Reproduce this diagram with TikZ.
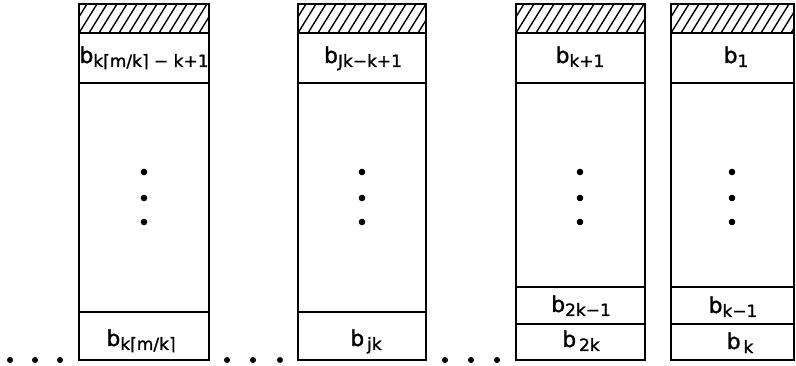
\documentclass[tikz,border=0pt]{standalone}
\usepackage{fontspec}
\setmainfont{DejaVu Sans}[FakeBold=1.2]
\newcommand\blbl[1]{{\fontsize{22}{22}\selectfont b}\raisebox{-4pt}{\fontsize{17}{17}\selectfont #1}}
\tikzset{
  cell/.style={line width=2.2pt},
  hatchline/.style={line width=1.4pt},
  lab/.style={anchor=base, inner sep=0pt},
  vdot/.style={fill=black},
}
\newcommand\hatchcol[2]{% x0, x1
  \begin{scope}
    \clip (#1,4) rectangle (#2,33);
    \foreach \i in {-30,-20,...,140} {
      \draw[hatchline] ({#1+\i},33) -- ({#1+\i+18},4);
    }
  \end{scope}
}
\begin{document}
\begin{tikzpicture}[x=1pt,y=-1pt]
\useasboundingbox (0,0) rectangle (796,366);
% column 1
\hatchcol{79}{209}
\draw[cell] (79,4) rectangle (209,360);
\draw[cell] (79,33) -- (209,33);
\draw[cell] (79,83) -- (209,83);
\draw[cell] (79,312) -- (209,312);
% column 2
\hatchcol{298}{426}
\draw[cell] (298,4) rectangle (426,360);
\draw[cell] (298,33) -- (426,33);
\draw[cell] (298,83) -- (426,83);
\draw[cell] (298,312) -- (426,312);
% column 3
\hatchcol{516}{645}
\draw[cell] (516,4) rectangle (645,360);
\draw[cell] (516,33) -- (645,33);
\draw[cell] (516,83) -- (645,83);
\draw[cell] (516,287) -- (645,287);
\draw[cell] (516,324) -- (645,324);
% column 4
\hatchcol{671}{794}
\draw[cell] (671,4) rectangle (794,360);
\draw[cell] (671,33) -- (794,33);
\draw[cell] (671,83) -- (794,83);
\draw[cell] (671,287) -- (794,287);
\draw[cell] (671,324) -- (794,324);
% labels
\node[lab] (a1) at (144,63) {\blbl{k⌈m/k⌉ − k+1}};
\node[lab] (a2) at (141,346) {\blbl{k⌈m/k⌉}};
\node[lab] (b1) at (363,63) {\blbl{Jk−k+1}};
\node[lab] (b2) at (366,346) {\blbl{\,jk}};
\node[lab] (c1) at (580,63) {\blbl{k+1}};
\node[lab] (c2) at (581,312) {\blbl{2k−1}};
\node[lab] (c3) at (581,347) {\blbl{\,2k}};
\node[lab] (d1) at (736,63) {\blbl{1}};
\node[lab] (d2) at (733,313) {\blbl{k−1}};
\node[lab] (d3) at (740,349) {\blbl{\,k}};
% vertical dots
\foreach \x/\n in {144/a,362/b,580/c,732/d} {
  \fill[vdot] (\x,172) circle (3.3) coordinate (\n v1);
  \fill[vdot] (\x,198) circle (3.3) coordinate (\n v2);
  \fill[vdot] (\x,222) circle (3.3) coordinate (\n v3);
}
% horizontal dots
\foreach \x in {10,35,60,227,253,280,445,471,497} {
  \fill[vdot] (\x,360) circle (3);
}
\end{tikzpicture}
\end{document}
